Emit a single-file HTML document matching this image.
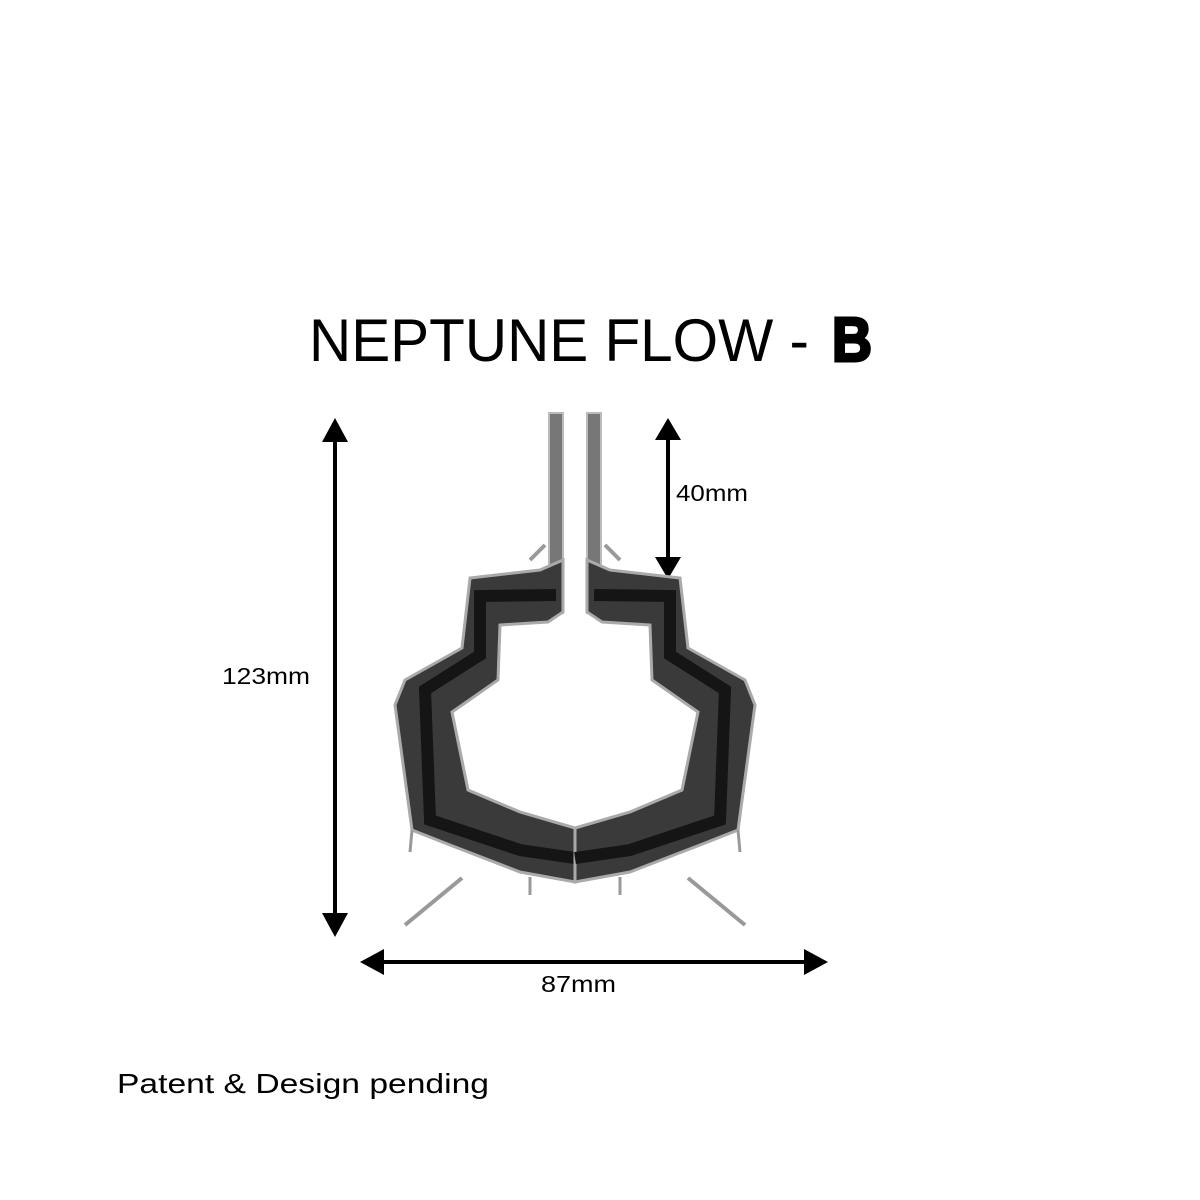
<!DOCTYPE html>
<html><head><style>html,body{margin:0;padding:0;background:#fff}svg{display:block}</style></head>
<body>
<svg width="1200" height="1200" viewBox="0 0 1200 1200" xmlns="http://www.w3.org/2000/svg">
<rect width="1200" height="1200" fill="#fff"/>
<text x="309" y="361" font-family="Liberation Sans, sans-serif" font-size="60" fill="#000" textLength="500" lengthAdjust="spacingAndGlyphs">NEPTUNE FLOW -</text>
<text x="832" y="361" font-family="Liberation Sans, sans-serif" font-size="62" font-weight="bold" fill="#000" stroke="#000" stroke-width="3" textLength="40" lengthAdjust="spacingAndGlyphs">B</text>
<g fill="#000">
<line x1="335" y1="435" x2="335" y2="920" stroke="#000" stroke-width="4"/>
<polygon points="335,418 322,442 348,442"/><polygon points="335,937 322,913 348,913"/>
<line x1="668" y1="435" x2="668" y2="562" stroke="#000" stroke-width="4"/>
<polygon points="668,418 655,440 681,440"/><polygon points="668,579 655,557 681,557"/>
<line x1="378" y1="962" x2="810" y2="962" stroke="#000" stroke-width="4"/>
<polygon points="360,962 384,949 384,975"/><polygon points="828,962 804,949 804,975"/>
</g>
<g font-family="Liberation Sans, sans-serif" font-size="23" fill="#000">
<text x="222" y="684" textLength="88" lengthAdjust="spacingAndGlyphs">123mm</text>
<text x="676" y="501" textLength="72" lengthAdjust="spacingAndGlyphs">40mm</text>
<text x="541" y="992" textLength="75" lengthAdjust="spacingAndGlyphs">87mm</text>
<text x="117" y="1093" font-size="28" textLength="372" lengthAdjust="spacingAndGlyphs">Patent &amp; Design pending</text>
</g>
<g id="half">
<line x1="462" y1="878" x2="405" y2="925" stroke="#999" stroke-width="4"/>
<rect x="549" y="413" width="14" height="200" fill="#777" stroke="#bbb" stroke-width="2"/>
<path fill-rule="evenodd" fill="#3a3a3a" stroke="#aaa" stroke-width="3" d="M563,560 L540,570 L470,578 L462,648 L405,680 L395,705 L412,830 L450,845 L520,872 L575,882 L575,828 L520,812 L468,790 L452,712 L498,680 L500,625 L548,622 L563,612 Z"/>
<path fill="none" stroke="#151515" stroke-width="12" d="M556,595 L480,596 L480,655 L425,690 L430,820 L520,850 L575,858"/>
<line x1="530" y1="560" x2="545" y2="545" stroke="#999" stroke-width="4"/>
<line x1="412" y1="830" x2="410" y2="852" stroke="#999" stroke-width="3"/>
<line x1="530" y1="877" x2="530" y2="895" stroke="#999" stroke-width="3"/>
</g>
<use href="#half" transform="translate(1150,0) scale(-1,1)"/>
</svg>
</body></html>
